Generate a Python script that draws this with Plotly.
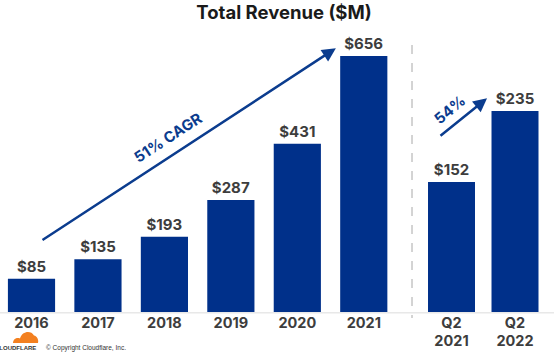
import plotly.graph_objects as go

# ---- data ----
years = ["2016", "2017", "2018", "2019", "2020", "2021"]
annual_revenue = [85, 135, 193, 287, 431, 656]
quarters = ["Q2<br>2021", "Q2<br>2022"]
quarter_revenue = [152, 235]
title_text = "Total Revenue ($M)"
cagr_label = "51% CAGR"
yoy_label = "54%"

BAR = "#00308a"
ARROW = "#0b3c8e"
LABEL = "#3d3d3d"
FONT = "Inter"

W, H = 554, 361
T, B = 30, 49
PH = H - T - B

def px_to_paper_y(py):
    return (H - B - py) / PH

fig = go.Figure()
fig.add_trace(go.Bar(
    x=years, y=annual_revenue, xaxis="x", yaxis="y",
    marker=dict(color=BAR, line=dict(width=0)), width=0.71,
    text=[f"${v}" for v in annual_revenue], textposition="outside",
    textfont=dict(family=FONT, size=15, color=LABEL, weight="bold"),
    cliponaxis=False, showlegend=False, hoverinfo="skip"))
fig.add_trace(go.Bar(
    x=quarters, y=quarter_revenue, xaxis="x2", yaxis="y2",
    marker=dict(color=BAR, line=dict(width=0)), width=0.74,
    text=[f"${v}" for v in quarter_revenue], textposition="outside",
    textfont=dict(family=FONT, size=15, color=LABEL, weight="bold"),
    cliponaxis=False, showlegend=False, hoverinfo="skip"))

tickfont = dict(family=FONT, size=14.5, color=LABEL, weight="bold")
ymax1 = max(annual_revenue) * PH / 256
ymax2 = max(quarter_revenue) * PH / 201

fig.update_layout(
    width=W, height=H,
    margin=dict(l=0, r=0, t=T, b=B),
    paper_bgcolor="white", plot_bgcolor="white",
    title=dict(text="<b>" + title_text + "</b>", x=284 / W, xanchor="center",
               y=1 - 13 / H, yanchor="middle",
               font=dict(family=FONT, size=18.5, color="#1a1a1a")),
    xaxis=dict(domain=[0, 397 / W], range=[-0.474, 5.5], type="category",
               showgrid=False, zeroline=False, showline=False,
               ticks="", tickfont=tickfont),
    xaxis2=dict(domain=[419.75 / W, 546.75 / W], range=[-0.5, 1.5], type="category",
                anchor="y2", showgrid=False, zeroline=False, showline=False,
                ticks="", tickfont=tickfont),
    yaxis=dict(range=[0, ymax1], visible=False),
    yaxis2=dict(range=[0, ymax2], visible=False, anchor="x2", overlaying="y"),
    bargap=0.3,
)

# baseline
fig.add_shape(type="line", xref="paper", yref="paper", x0=0, x1=1, y0=-0.003, y1=-0.003,
              line=dict(color="#dcdcdc", width=1))
# dashed divider
fig.add_shape(type="line", xref="paper", yref="paper", x0=412 / W, x1=412 / W,
              y0=px_to_paper_y(45), y1=px_to_paper_y(318),
              line=dict(color="#a8a8a8", width=1, dash="dash"))

# CAGR arrow
fig.add_annotation(x=4.58, y=676, ax=0.143, ay=182, xref="x", yref="y",
                   axref="x", ayref="y", showarrow=True, arrowhead=2,
                   arrowsize=1.1, arrowwidth=2.5, arrowcolor=ARROW, text="")
fig.add_annotation(x=2.05, y=448, xref="x", yref="y", text=cagr_label,
                   showarrow=False, textangle=-33,
                   font=dict(family=FONT, size=15, color=ARROW, weight="bold"))
# quarterly arrow
fig.add_annotation(x=0.56, y=250, ax=-0.197, ay=204.6, xref="x2", yref="y2",
                   axref="x2", ayref="y2", showarrow=True, arrowhead=2,
                   arrowsize=1.1, arrowwidth=2.5, arrowcolor=ARROW, text="")
fig.add_annotation(x=-0.03, y=237, xref="x2", yref="y2", text=yoy_label,
                   showarrow=False, textangle=-40,
                   font=dict(family=FONT, size=15, color=ARROW, weight="bold"))

# Cloudflare logo (approximate)
def P(px, py):
    return f"{px / W:.5f},{px_to_paper_y(py):.5f}"
cloud = (f"M {P(13,343)} C {P(13,339)} {P(17,337)} {P(20,338.5)} "
         f"C {P(22,331)} {P(31,330)} {P(34,335.5)} "
         f"C {P(37,336)} {P(39,340)} {P(38,343)} Z")
fig.add_shape(type="path", xref="paper", yref="paper", path=cloud,
              fillcolor="#f38020", line=dict(width=0))
fig.add_annotation(x=38 / W, y=px_to_paper_y(348), xref="paper", yref="paper",
                   xanchor="right", yanchor="middle", showarrow=False,
                   text="<b>CLOUDFLARE</b>",
                   font=dict(family="Liberation Sans", size=6, color="#333"))
fig.add_annotation(x=44 / W, y=px_to_paper_y(348), xref="paper", yref="paper",
                   xanchor="left", yanchor="middle", showarrow=False,
                   text="© Copyright Cloudflare, Inc.",
                   font=dict(family="Liberation Sans", size=6.5, color="#333"))

fig.write_html("out.html", config={"displayModeBar": False},
               post_script="document.body.style.margin='0';document.body.style.overflow='hidden';")
